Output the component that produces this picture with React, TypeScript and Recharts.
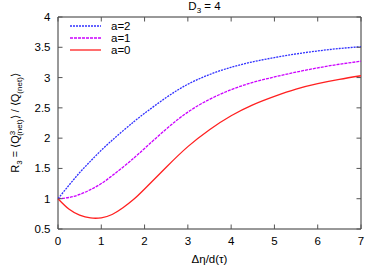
import { LineChart, Line, XAxis, YAxis, ReferenceArea, Legend } from 'recharts';

const xValues = [0, 0.25, 0.5, 0.75, 1, 1.25, 1.5, 1.75, 2, 2.5, 3, 3.5, 4, 4.5, 5, 5.5, 6, 6.5, 7];
const a2 = [1.0, 1.22, 1.43, 1.62, 1.8, 1.965, 2.12, 2.27, 2.41, 2.67, 2.89, 3.05, 3.17, 3.26, 3.33, 3.39, 3.44, 3.48, 3.51];
const a1 = [1.0, 1.02, 1.07, 1.15, 1.25, 1.38, 1.52, 1.67, 1.83, 2.15, 2.43, 2.64, 2.8, 2.92, 3.01, 3.09, 3.16, 3.22, 3.27];
const a0 = [1.0, 0.83, 0.73, 0.683, 0.685, 0.74, 0.85, 0.99, 1.16, 1.52, 1.86, 2.14, 2.37, 2.55, 2.69, 2.81, 2.9, 2.97, 3.03];
const xTicks = [0, 1, 2, 3, 4, 5, 6, 7];
const yTicks = [0.5, 1, 1.5, 2, 2.5, 3, 3.5, 4];

const series = [
  { key: 'a2', name: 'a=2', color: '#3030ff', dash: '2 1' },
  { key: 'a1', name: 'a=1', color: '#cc00ff', dash: '3 1' },
  { key: 'a0', name: 'a=0', color: '#ff2020', dash: undefined },
];

const data = xValues.map((x, i) => ({ x, a2: a2[i], a1: a1[i], a0: a0[i] }));

const W = 382;
const H = 267;
const TOP = 17;
const BOTTOM = 229;
const LEFT = 58;
const RIGHT = 361;
const TICK = 4.5;
const FONT = '"Liberation Sans", Arial, sans-serif';

function XTick({ x, payload }: any) {
  return (
    <g>
      <line x1={x} x2={x} y1={BOTTOM} y2={BOTTOM - TICK} stroke="#555" />
      <line x1={x} x2={x} y1={TOP} y2={TOP + TICK} stroke="#555" />
      <text x={x} y={BOTTOM + 16} textAnchor="middle" fontSize={11.5} fontFamily={FONT} fill="#000">
        {payload.value}
      </text>
    </g>
  );
}

function YTick({ y, payload }: any) {
  return (
    <g>
      <line x1={LEFT} x2={LEFT + TICK} y1={y} y2={y} stroke="#555" />
      <line x1={RIGHT} x2={RIGHT - TICK} y1={y} y2={y} stroke="#555" />
      <text x={LEFT - 7.5} y={y + 4} textAnchor="end" fontSize={11.5} fontFamily={FONT} fill="#000">
        {payload.value}
      </text>
    </g>
  );
}

function YLabel() {
  return (
    <text
      transform={`translate(19, ${(TOP + BOTTOM) / 2}) rotate(-90)`}
      textAnchor="middle"
      fontSize={11}
      fontFamily={FONT}
      fill="#000"
    >
      <tspan>R</tspan>
      <tspan fontSize={8} dy={3}>3</tspan>
      <tspan dy={-3}> = ⟨Q</tspan>
      <tspan fontSize={8} dy={-4}>3</tspan>
      <tspan fontSize={8} dx={-5} dy={7}>(net)</tspan>
      <tspan dy={-3}>⟩ / ⟨Q</tspan>
      <tspan fontSize={8} dy={3}>(net)</tspan>
      <tspan dy={-3}>⟩</tspan>
    </text>
  );
}

function LegendBox() {
  return (
    <div style={{ fontFamily: FONT, fontSize: 11.5 }}>
      {series.map((s) => (
        <div key={s.key} style={{ display: 'flex', alignItems: 'center', height: 12.3 }}>
          <svg width={32} height={4}>
            <line x1={0} x2={31} y1={2} y2={2} stroke={s.color} strokeWidth={1.3} strokeDasharray={s.dash} />
          </svg>
          <span style={{ marginLeft: 9 }}>{s.name}</span>
        </div>
      ))}
    </div>
  );
}

export default function App() {
  return (
    <div style={{ position: 'absolute', left: 0, top: 0, width: W, height: H, background: '#fff' }}>
      <div
        style={{
          position: 'absolute',
          left: 0,
          width: 409,
          top: 0,
          textAlign: 'center',
          fontFamily: FONT,
          fontSize: 11.5,
        }}
      >
        D<sub style={{ fontSize: 8 }}>3</sub> = 4
      </div>
      <LineChart width={W} height={H} data={data} margin={{ top: TOP, right: W - RIGHT, bottom: 0, left: 0 }}>
        <XAxis
          dataKey="x"
          type="number"
          domain={[0, 7]}
          ticks={xTicks}
          tick={<XTick />}
          tickLine={false}
          axisLine={false}
          height={H - BOTTOM}
          label={{ value: 'Δη/d(τ)', position: 'insideBottom', offset: 4, fontSize: 11.5, fontFamily: FONT, fill: '#000' }}
        />
        <YAxis
          type="number"
          domain={[0.5, 4]}
          ticks={yTicks}
          tick={<YTick />}
          tickLine={false}
          axisLine={false}
          width={LEFT}
          label={<YLabel />}
        />
        <ReferenceArea x1={0} x2={7} y1={0.5} y2={4} fill="none" stroke="#333" strokeWidth={1} />
        {series.map((s) => (
          <Line
            key={s.key}
            dataKey={s.key}
            name={s.name}
            type="natural"
            stroke={s.color}
            strokeWidth={1.3}
            strokeDasharray={s.dash}
            dot={false}
            isAnimationActive={false}
          />
        ))}
        <Legend
          layout="vertical"
          align="center"
          verticalAlign="middle"
          content={<LegendBox />}
          wrapperStyle={{ position: 'absolute', left: 70, top: 19.5, width: 80 }}
        />
      </LineChart>
    </div>
  );
}
